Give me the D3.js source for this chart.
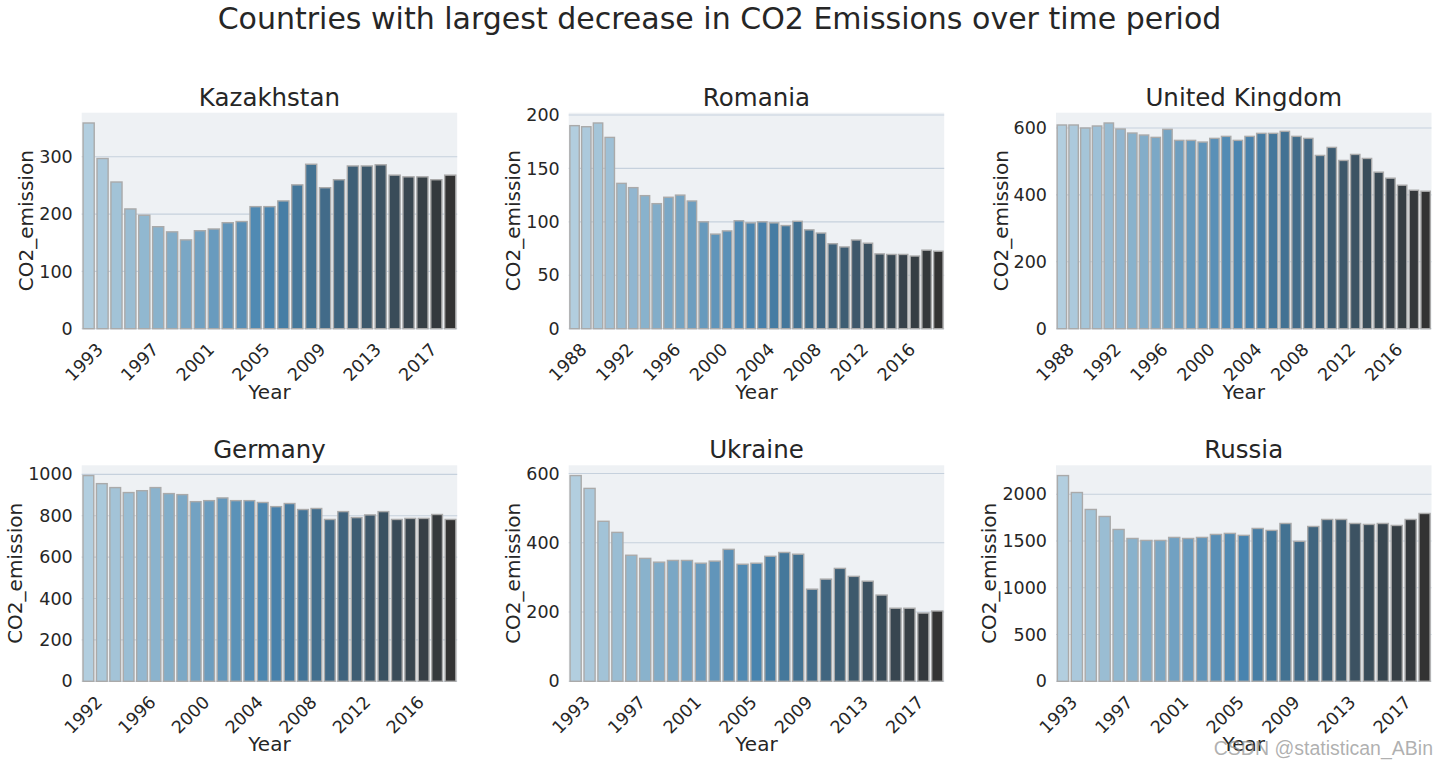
<!DOCTYPE html>
<html>
<head>
<meta charset="utf-8">
<script src="https://cdn.jsdelivr.net/npm/d3@7"></script>
<style>
  html, body { margin: 0; padding: 0; background: #ffffff; }
  svg { display: block; }
  text { font-family: "DejaVu Sans", sans-serif; fill: #262626; }
</style>
</head>
<body>
<svg id="chart" width="1439" height="762"></svg>
<script>
// ---------------- data ----------------
const chartTitle = "Countries with largest decrease in CO2 Emissions over time period";
const countries = ["Kazakhstan", "Romania", "United Kingdom", "Germany", "Ukraine", "Russia"];
const startYears = [1992, 1987, 1987, 1991, 1992, 1992];

const kazakhstan = [359, 297, 256, 209, 198, 178, 169, 155, 171, 174, 185, 187, 213, 213, 223, 251, 287, 246, 260, 284, 284, 286, 268, 265, 265, 260, 268];
const romania = [190, 189, 192.5, 179, 136, 132, 124.5, 117, 123, 125, 119.5, 100, 88.5, 91.5, 101, 99, 100, 99, 96.5, 100.5, 92.5, 89.5, 79.5, 76.5, 83, 80, 70, 69.5, 69.5, 68, 73.5, 72.5];
const unitedKingdom = [609, 609, 600, 606, 615, 597, 585, 579, 572, 596, 563, 563, 558, 569, 575, 563, 575, 584, 584, 590, 575, 569, 518, 542, 503, 521, 509, 468, 450, 429, 414, 411];
const germany = [994, 955, 936, 912, 921, 936, 907, 902, 868, 873, 886, 873, 873, 864, 844, 859, 830, 835, 782, 820, 791, 804, 820, 782, 787, 787, 806, 782];
const ukraine = [594, 557, 462, 430, 364, 355, 344, 349, 349, 341, 347, 381, 338, 341, 361, 372, 367, 266, 295, 326, 303, 289, 249, 211, 211, 197, 203];
const russia = [2199, 2018, 1837, 1762, 1623, 1527, 1506, 1506, 1538, 1527, 1538, 1570, 1581, 1560, 1634, 1613, 1687, 1496, 1655, 1730, 1730, 1687, 1677, 1687, 1666, 1730, 1794];

const kazakhstanTicks = [0, 100, 200, 300];
const romaniaTicks = [0, 50, 100, 150, 200];
const unitedKingdomTicks = [0, 200, 400, 600];
const germanyTicks = [0, 200, 400, 600, 800, 1000];
const ukraineTicks = [0, 200, 400, 600];
const russiaTicks = [0, 500, 1000, 1500, 2000];

const seriesList = [kazakhstan, romania, unitedKingdom, germany, ukraine, russia];
const tickList = [kazakhstanTicks, romaniaTicks, unitedKingdomTicks, germanyTicks, ukraineTicks, russiaTicks];

const xLabel = "Year";
const yLabel = "CO2_emission";
const watermark = "CSDN @statistican_ABin";

// ---------------- layout ----------------
const svg = d3.select("#chart");
const colLefts = [81.7, 568.7, 1056];
const rowTops = [112.7, 465.3];
const axW = 375.5, axH = 216;
const tickFont = 17.5, labelFont = 20, titleFont = 24.5;

// palette: seaborn "Blues_d" + 0.75 desaturation
const blues1 = "rgb(171,208,230)";
const blues2 = "rgb(55,135,192)";
function paletteFor(n) {
  const interp = d3.piecewise(d3.interpolateRgb, [blues1, blues2, "#333333"]);
  return d3.range(n).map(i => {
    const c = d3.hsl(interp(n === 1 ? 0 : i / (n - 1)));
    c.s *= 0.75;
    return c.formatHex();
  });
}

svg.append("text")
  .attr("x", 719.5).attr("y", 29)
  .attr("text-anchor", "middle")
  .style("font-size", "30px")
  .text(chartTitle);

countries.forEach((name, k) => {
  const values = seriesList[k];
  const ticks = tickList[k];
  const years = values.map((v, i) => startYears[k] + i);
  const left = colLefts[k % 3];
  const top = rowTops[Math.floor(k / 3)];
  const g = svg.append("g").attr("transform", `translate(${left},${top})`);

  const x = d3.scaleBand().domain(years).range([0, axW]).paddingInner(0.2).paddingOuter(0.1);
  const y = d3.scaleLinear().domain([0, d3.max(values) * 1.05]).range([axH, 0]);
  const colors = paletteFor(values.length);

  g.append("rect").attr("x", 0).attr("y", 0).attr("width", axW).attr("height", axH)
    .attr("fill", "#eef1f4");

  // grid
  g.append("g").selectAll("line").data(ticks).join("line")
    .attr("x1", 0).attr("x2", axW)
    .attr("y1", d => y(d)).attr("y2", d => y(d))
    .attr("stroke", "#c6d1dd").attr("stroke-width", 1.1);

  // bars
  g.append("g").selectAll("rect").data(values).join("rect")
    .attr("x", (d, i) => x(years[i]))
    .attr("y", d => y(d))
    .attr("width", x.bandwidth())
    .attr("height", d => axH - y(d))
    .attr("fill", (d, i) => colors[i])
    .attr("stroke", "#aaaaaa")
    .attr("stroke-width", 1.4);

  // y axis labels
  const yAxis = d3.axisLeft(y).tickValues(ticks).tickSize(0).tickPadding(9).tickFormat(d3.format("d"));
  const ya = g.append("g").call(yAxis).attr("font-size", null).attr("font-family", null);
  ya.select(".domain").remove();
  ya.selectAll("text").style("font-size", tickFont + "px").style("font-family", "DejaVu Sans").attr("fill", "#262626");
  let maxW = 0;
  ya.selectAll("text").each(function () { maxW = Math.max(maxW, this.getComputedTextLength()); });

  g.append("text")
    .attr("transform", `translate(${-9 - maxW - 6},${axH / 2}) rotate(-90)`)
    .attr("text-anchor", "middle")
    .style("font-size", labelFont + "px")
    .text(yLabel);

  // x tick labels: every 4th year starting from index 1
  const shown = years.filter((yr, i) => i % 4 === 1);
  g.append("g").selectAll("text").data(shown).join("text")
    .attr("transform", d => `translate(${x(d) + x.bandwidth() / 2 + 1.5},${axH + 22}) rotate(-45)`)
    .attr("text-anchor", "end")
    .style("font-size", tickFont + "px")
    .text(d => d);

  g.append("text")
    .attr("x", axW / 2).attr("y", axH + 70)
    .attr("text-anchor", "middle")
    .style("font-size", labelFont + "px")
    .text(xLabel);

  g.append("text")
    .attr("x", axW / 2).attr("y", -7)
    .attr("text-anchor", "middle")
    .style("font-size", titleFont + "px")
    .text(name);
});

svg.append("text")
  .attr("x", 1433).attr("y", 755)
  .attr("text-anchor", "end")
  .style("font-family", "Liberation Sans, Arial, sans-serif")
  .style("font-size", "19.5px")
  .style("fill", "rgba(150,150,150,0.75)")
  .text(watermark);
</script>
</body>
</html>
